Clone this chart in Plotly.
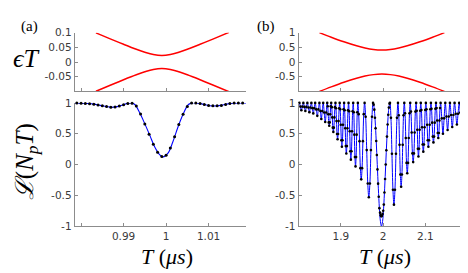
import plotly.graph_objects as go

# ---------------- data ----------------
# top panels: eigen-energies eps*T (avoided crossing)
T_eps_a = [0.9835, 0.987, 0.990, 0.993, 0.995, 0.997, 0.999, 1.001, 1.003, 1.005, 1.008, 1.011, 1.0148]
eps_a_up = [0.0992, 0.0781, 0.0604, 0.0434, 0.0333, 0.0253, 0.022, 0.0253, 0.0333, 0.0434, 0.0604, 0.0781, 0.101]
eps_a_dn = [-0.0992, -0.0781, -0.0604, -0.0434, -0.0333, -0.0253, -0.022, -0.0253, -0.0333, -0.0434, -0.0604, -0.0781, -0.101]

T_eps_b = [1.849, 1.877, 1.907, 1.937, 1.957, 1.977, 1.997, 2.017, 2.037, 2.057, 2.087, 2.117, 2.145]
eps_b_up = [1.0, 0.845, 0.689, 0.552, 0.478, 0.428, 0.41, 0.428, 0.478, 0.552, 0.689, 0.845, 1.0]
eps_b_dn = [-1.0, -0.845, -0.689, -0.552, -0.478, -0.428, -0.41, -0.428, -0.478, -0.552, -0.689, -0.845, -1.0]

# bottom-left: L(N_p T), theory curve
T_La = [0.9780, 0.9800, 0.9815, 0.9830, 0.9845, 0.9860, 0.9872, 0.9885, 0.9898, 0.9908,
        0.9918, 0.9927, 0.9938, 0.9950, 0.9962, 0.9973, 0.9985, 0.9993, 1.0005, 1.0016,
        1.0028, 1.0040, 1.0052, 1.0061, 1.0075, 1.0090, 1.0103, 1.0115, 1.0128, 1.0142,
        1.0157, 1.0172, 1.0190]
L_a = [1.0, 0.995, 0.99, 0.98, 0.96, 0.94, 0.93, 0.94, 0.965, 0.99,
       1.0, 0.97, 0.84, 0.66, 0.47, 0.29, 0.16, 0.125, 0.19, 0.37,
       0.61, 0.815, 0.97, 1.0, 0.995, 0.975, 0.955, 0.95, 0.96, 0.98,
       0.995, 1.0, 1.0]
# bottom-left: numerical points
T_dots_a = [0.979, 0.980, 0.981, 0.982, 0.983, 0.984, 0.985, 0.986, 0.987, 0.988,
            0.989, 0.990, 0.991, 0.992, 0.993, 0.994, 0.995, 0.996, 0.997, 0.998,
            0.999, 1.000, 1.001, 1.002, 1.003, 1.004, 1.005, 1.006, 1.007, 1.008,
            1.009, 1.010, 1.011, 1.012, 1.013, 1.014, 1.015, 1.016, 1.017, 1.018]
L_dots_a = [1.0, 0.995, 0.992, 0.988, 0.98, 0.967, 0.953, 0.94, 0.93, 0.935,
            0.95, 0.97, 0.992, 0.995, 0.95, 0.82, 0.66, 0.49, 0.33, 0.2,
            0.13, 0.15, 0.27, 0.45, 0.65, 0.815, 0.94, 1.0, 0.998, 0.99,
            0.975, 0.96, 0.952, 0.952, 0.96, 0.975, 0.99, 0.997, 1.0, 1.0]

# bottom-right: L(N_p T), theory curve (peaks, flanks, troughs)
T_Lb = [1.7992,
    1.8016, 1.80395, 1.8063, 1.80865,
    1.8110, 1.81338, 1.81575, 1.81813,
    1.8205, 1.82288, 1.82525, 1.82763,
    1.8300, 1.83225, 1.8345, 1.83675,
    1.8390, 1.8415, 1.8440, 1.8465,
    1.8490, 1.85125, 1.8535, 1.85575,
    1.8580, 1.86038, 1.86275, 1.86513,
    1.8675, 1.86869, 1.86988, 1.87106, 1.87225, 1.87344, 1.87463, 1.87581,
    1.8770, 1.87825, 1.8795, 1.88075, 1.8820, 1.88325, 1.8845, 1.88575,
    1.8870, 1.88825, 1.8895, 1.89075, 1.8920, 1.89325, 1.8945, 1.89575,
    1.8970, 1.89831, 1.89963, 1.90094, 1.90225, 1.90356, 1.90488, 1.90619,
    1.9075, 1.90881, 1.91013, 1.91144, 1.91275, 1.91406, 1.91538, 1.91669,
    1.9180, 1.91938, 1.92075, 1.92213, 1.9235, 1.92488, 1.92625, 1.92763,
    1.9290, 1.93038, 1.93175, 1.93313, 1.9345, 1.93588, 1.93725, 1.93863,
    1.9400, 1.9420, 1.9440, 1.9460, 1.9480, 1.9500, 1.9520, 1.9540,
    1.9560, 1.9585, 1.9610, 1.9635, 1.9660, 1.9685, 1.9710, 1.9735,
    1.9760, 1.9785, 1.9810, 1.9835, 1.9860, 1.9885, 1.9910, 1.9935,
    1.9960, 1.9985, 2.0010, 2.0035, 2.0060, 2.0085, 2.0110, 2.0135,
    2.0160, 2.01838, 2.02075, 2.02313, 2.0255, 2.02788, 2.03025, 2.03263,
    2.0350, 2.03688, 2.03875, 2.04063, 2.0425, 2.04438, 2.04625, 2.04813,
    2.0500, 2.05175, 2.0535, 2.05525, 2.0570, 2.05875, 2.0605, 2.06225,
    2.0640, 2.06575, 2.0675, 2.06925, 2.0710, 2.07275, 2.0745, 2.07625,
    2.0780, 2.07938, 2.08075, 2.08213, 2.0835, 2.08488, 2.08625, 2.08763,
    2.0890, 2.0905, 2.0920, 2.0935, 2.0950, 2.0965, 2.0980, 2.0995,
    2.1010, 2.1025, 2.1040, 2.1055, 2.1070, 2.1085, 2.1100, 2.1115,
    2.1130, 2.1145, 2.1160, 2.1175, 2.1190, 2.1205, 2.1220, 2.1235,
    2.1250, 2.12638, 2.12775, 2.12913, 2.1305, 2.13188, 2.13325, 2.13463,
    2.1360, 2.13875, 2.1415, 2.14425,
    2.1470, 2.14975, 2.1525, 2.15525,
    2.1580, 2.16075, 2.1635, 2.16625,
    2.1690, 2.17175, 2.1745, 2.17725,
    2.1800, 2.1825, 2.1850, 2.1875,
    2.1900, 2.19225, 2.1945, 2.19675,
    2.1990, 2.2025]
L_b = [0.94,
    1.0, 0.94, 0.88, 0.94,
    1.0, 0.935, 0.87, 0.935,
    1.0, 0.925, 0.85, 0.925,
    1.0, 0.915, 0.83, 0.915,
    1.0, 0.895, 0.79, 0.895,
    1.0, 0.87, 0.74, 0.87,
    1.0, 0.845, 0.69, 0.845,
    1.0, 0.946, 0.815, 0.684, 0.63, 0.684, 0.815, 0.946,
    1.0, 0.931, 0.765, 0.599, 0.53, 0.599, 0.765, 0.931,
    1.0, 0.914, 0.705, 0.496, 0.41, 0.496, 0.705, 0.914,
    1.0, 0.896, 0.645, 0.394, 0.29, 0.394, 0.645, 0.896,
    1.0, 0.88, 0.59, 0.30, 0.18, 0.30, 0.59, 0.88,
    1.0, 0.865, 0.54, 0.215, 0.08, 0.215, 0.54, 0.865,
    1.0, 0.849, 0.485, 0.121, -0.03, 0.121, 0.485, 0.849,
    1.0, 0.818, 0.38, -0.058, -0.24, -0.058, 0.38, 0.818,
    1.0, 0.776, 0.235, -0.306, -0.53, -0.306, 0.235, 0.776,
    1.0, 0.924, 0.707, 0.383, 0.0, -0.383, -0.707, -0.924,
    -1.0, -0.924, -0.707, -0.383, 0.0, 0.383, 0.707, 0.924,
    1.0, 0.758, 0.175, -0.408, -0.65, -0.408, 0.175, 0.758,
    1.0, 0.801, 0.32, -0.161, -0.36, -0.161, 0.32, 0.801,
    1.0, 0.833, 0.43, 0.027, -0.14, 0.027, 0.43, 0.833,
    1.0, 0.859, 0.52, 0.181, 0.04, 0.181, 0.52, 0.859,
    1.0, 0.873, 0.565, 0.257, 0.13, 0.257, 0.565, 0.873,
    1.0, 0.884, 0.605, 0.326, 0.21, 0.326, 0.605, 0.884,
    1.0, 0.896, 0.645, 0.394, 0.29, 0.394, 0.645, 0.896,
    1.0, 0.906, 0.68, 0.454, 0.36, 0.454, 0.68, 0.906,
    1.0, 0.917, 0.715, 0.513, 0.43, 0.513, 0.715, 0.917,
    1.0, 0.75, 0.50, 0.75,
    1.0, 0.78, 0.56, 0.78,
    1.0, 0.805, 0.61, 0.805,
    1.0, 0.825, 0.65, 0.825,
    1.0, 0.845, 0.69, 0.845,
    1.0, 0.86, 0.72, 0.86,
    1.0, 0.93]

# bottom-right: numerical points inside the central dip
T_dots_center = [1.9775, 1.979, 1.9805, 1.982, 1.9835, 1.985, 1.9865, 1.988, 1.9895,
                 1.991, 1.9925, 1.994, 1.9955, 1.997, 1.9985, 2.000, 2.0015, 2.003,
                 2.0045, 2.006, 2.0075, 2.009, 2.0105, 2.012, 2.0135, 2.015]
L_dots_center = [0.972, 0.891, 0.760, 0.588, 0.383, 0.156, -0.078, -0.309, -0.522,
                 -0.707, -0.78, -0.82, -0.84, -0.83, -0.80, -0.75, -0.649, -0.454,
                 -0.233, 0.0, 0.233, 0.454, 0.649, 0.809, 0.924, 0.988]

# tick labels
xt_a = [0.99, 1.0, 1.01]
xt_a_txt = ['0.99', '1', '1.01']
xt_a_minor = [0.98]
xt_b = [1.9, 2.0, 2.1]
xt_b_txt = ['1.9', '2', '2.1']
yt_top_a = [-0.05, 0, 0.05, 0.1]
yt_top_a_txt = ['-0.05', '0', '0.05', '0.1']
yt_top_b = [-0.5, 0, 0.5, 1]
yt_top_b_txt = ['-0.5', '0', '0.5', '1']
yt_bot = [-1, -0.5, 0, 0.5, 1]
yt_bot_txt = ['-1', '-0.5', '0', '0.5', '1']

# ---------------- figure ----------------
W, H = 468, 273
RED = '#ff0000'
BLUE = '#0000ff'
AXC = '#8c8c8c'

pairs = [(t, l) for t, l in zip(T_Lb[1:-1], L_b[1:-1]) if not (1.977 < t < 2.015)]
dots_bT = [p[0] for p in pairs] + T_dots_center
dots_bL = [p[1] for p in pairs] + L_dots_center

fig = go.Figure()
# panel (a) top
fig.add_trace(go.Scatter(x=T_eps_a, y=eps_a_up, mode='lines', line=dict(color=RED, width=1.5, shape='spline'), xaxis='x', yaxis='y'))
fig.add_trace(go.Scatter(x=T_eps_a, y=eps_a_dn, mode='lines', line=dict(color=RED, width=1.5, shape='spline'), xaxis='x', yaxis='y'))
# panel (a) bottom
fig.add_trace(go.Scatter(x=T_La, y=L_a, mode='lines', line=dict(color=BLUE, width=1.1, shape='spline'), xaxis='x2', yaxis='y2'))
fig.add_trace(go.Scatter(x=T_dots_a, y=L_dots_a, mode='markers', marker=dict(color='#000000', size=3.0), cliponaxis=False, xaxis='x2', yaxis='y2'))
# panel (b) top
fig.add_trace(go.Scatter(x=T_eps_b, y=eps_b_up, mode='lines', line=dict(color=RED, width=1.5, shape='spline'), xaxis='x3', yaxis='y3'))
fig.add_trace(go.Scatter(x=T_eps_b, y=eps_b_dn, mode='lines', line=dict(color=RED, width=1.5, shape='spline'), xaxis='x3', yaxis='y3'))
# panel (b) bottom
fig.add_trace(go.Scatter(x=T_Lb, y=L_b, mode='lines', line=dict(color=BLUE, width=1.0, shape='spline'), xaxis='x4', yaxis='y4'))
fig.add_trace(go.Scatter(x=dots_bT, y=dots_bL, mode='markers', marker=dict(color='#000000', size=2.6), cliponaxis=False, xaxis='x4', yaxis='y4'))

def px_x(a, b):
    return [a / W, b / W]

def px_y(top, bottom):
    return [1 - bottom / H, 1 - top / H]

axis_common = dict(showline=True, linecolor=AXC, linewidth=1, ticks='inside', ticklen=3,
                   tickcolor=AXC, showgrid=False, zeroline=False,
                   tickfont=dict(family='DejaVu Sans', size=10.5, color='#3a3a3a'))
minor_a = dict(tickvals=xt_a_minor, ticks='inside', ticklen=3, tickcolor=AXC, showgrid=False)

xr_a = [0.9785, 1.0188]
xr_b = [1.7995, 2.202]
dom_xa = px_x(66.7, 238)
dom_xb = px_x(290.5, 460.5)
dom_top = px_y(19.5, 81)
dom_bot = px_y(93, 222)

fig.update_layout(
    width=W, height=H, autosize=False, showlegend=False,
    margin=dict(l=0, r=0, t=0, b=0),
    paper_bgcolor='white', plot_bgcolor='white',
    xaxis=dict(axis_common, domain=dom_xa, range=xr_a, anchor='y', tickvals=xt_a, showticklabels=False, minor=minor_a),
    yaxis=dict(axis_common, domain=dom_top, range=[-0.1, 0.1], anchor='x', tickvals=yt_top_a, ticktext=yt_top_a_txt),
    xaxis2=dict(axis_common, domain=dom_xa, range=xr_a, anchor='y2', tickvals=xt_a, ticktext=xt_a_txt, minor=minor_a),
    yaxis2=dict(axis_common, domain=dom_bot, range=[-1, 1], anchor='x2', tickvals=yt_bot, ticktext=yt_bot_txt),
    xaxis3=dict(axis_common, domain=dom_xb, range=xr_b, anchor='y3', tickvals=xt_b, showticklabels=False),
    yaxis3=dict(axis_common, domain=dom_top, range=[-1, 1], anchor='x3', tickvals=yt_top_b, ticktext=yt_top_b_txt),
    xaxis4=dict(axis_common, domain=dom_xb, range=xr_b, anchor='y4', tickvals=xt_b, ticktext=xt_b_txt),
    yaxis4=dict(axis_common, domain=dom_bot, range=[-1, 1], anchor='x4', tickvals=yt_bot, ticktext=yt_bot_txt),
)

SERIF = 'Liberation Serif, DejaVu Serif, serif'
ann = [
    dict(text='(a)', x=21 / W, y=1 - 13 / H, size=15),
    dict(text='(b)', x=257.5 / W, y=1 - 13 / H, size=15),
    dict(text='<i>ϵT</i>', x=18 / W, y=1 - 47 / H, size=26),
    dict(text='<i>ℒ</i>(<i>N<sub>p</sub>T</i>)', x=18 / W, y=1 - 155 / H, size=25, angle=-90),
    dict(text='<i>T</i> (<i>μs</i>)', x=159 / W, y=1 - 254 / H, size=22),
    dict(text='<i>T</i> (<i>μs</i>)', x=376.5 / W, y=1 - 254 / H, size=22),
]
for a in ann:
    fig.add_annotation(text=a['text'], x=a['x'], y=a['y'], xref='paper', yref='paper',
                       xanchor='center', yanchor='middle', showarrow=False,
                       textangle=a.get('angle', 0),
                       font=dict(family=SERIF, size=a['size'], color='#000000'))

fig.write_html('out.html')
